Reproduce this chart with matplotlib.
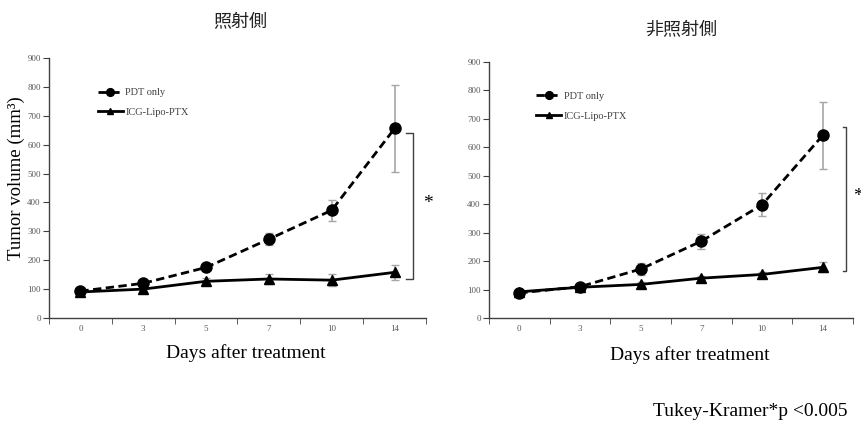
import matplotlib.pyplot as plt

days = ["0", "3", "5", "7", "10", "14"]

# 照射側 (irradiated side)
pdt_irr = [93, 120, 175, 273, 373, 656]
pdt_irr_err = [6, 8, 10, 20, 37, 150]
icg_irr = [90, 100, 127, 135, 131, 158]
icg_irr_err = [5, 6, 10, 18, 20, 25]

# 非照射側 (non-irradiated side)
pdt_non = [88, 110, 172, 270, 398, 642]
pdt_non_err = [6, 8, 22, 27, 40, 118]
icg_non = [92, 108, 118, 140, 153, 178]
icg_non_err = [5, 6, 8, 8, 10, 18]

titles = ["照射側", "非照射側"]
series_names = ["PDT only", "ICG-Lipo-PTX"]
sig_range = [(640, 135), (671, 165)]

serif = ["Liberation Serif", "DejaVu Serif"]
cjk = ["Noto Sans CJK JP", "DejaVu Sans"]

fig = plt.figure(figsize=(8.62, 4.21), dpi=100)
ax1 = fig.add_axes([0.0568, 0.2447, 0.4374, 0.6175])
ax2 = fig.add_axes([0.5673, 0.2447, 0.4223, 0.6080])

panels = [
    (ax1, pdt_irr, pdt_irr_err, icg_irr, icg_irr_err),
    (ax2, pdt_non, pdt_non_err, icg_non, icg_non_err),
]

x = list(range(len(days)))
err_color = "#a6a6a6"
xlabel_pos = [(0.523, -0.10), (0.552, -0.11)]

for i, (ax, pdt, pdt_err, icg, icg_err) in enumerate(panels):
    ax.errorbar(x, pdt, yerr=pdt_err, fmt="none", ecolor=err_color,
                elinewidth=1.2, capsize=3, zorder=1)
    ax.errorbar(x, icg, yerr=icg_err, fmt="none", ecolor=err_color,
                elinewidth=1.2, capsize=3, zorder=1)
    ax.plot(x, pdt, color="black", linestyle=(0, (3, 1.6)), linewidth=2,
            marker="o", markersize=8, label=series_names[0], zorder=3)
    ax.plot(x, icg, color="black", linestyle="-", linewidth=2,
            marker="^", markersize=7, label=series_names[1], zorder=3)

    ax.set_xlim(-0.5, len(days) - 0.5)
    ax.set_ylim(0, 900)
    ax.set_yticks(range(0, 901, 100))
    ax.set_xticks(x)
    ax.set_xticklabels(days)
    ax.set_xticks([k - 0.5 for k in range(len(days) + 1)], minor=True)
    ax.tick_params(axis="x", which="major", length=0, pad=5,
                   labelsize=6.5, labelcolor="#595959")
    ax.tick_params(axis="x", which="minor", length=4, direction="out",
                   color="#404040")
    ax.tick_params(axis="y", length=4, direction="out", color="#404040",
                   labelsize=6.5, labelcolor="#595959", pad=2)
    for lab in ax.get_xticklabels() + ax.get_yticklabels():
        lab.set_family(serif)

    for side in ["top", "right"]:
        ax.spines[side].set_visible(False)
    for side in ["left", "bottom"]:
        ax.spines[side].set_color("#404040")
        ax.spines[side].set_linewidth(1)

    ax.set_xlabel("Days after treatment", fontsize=14, family=serif)
    ax.xaxis.set_label_coords(*xlabel_pos[i])

    leg = ax.legend(loc="upper left", bbox_to_anchor=(0.115, 0.905),
                    frameon=False, handlelength=2.4, handletextpad=0.25,
                    labelspacing=1.0, borderpad=0, markerscale=0.7,
                    prop={"family": serif, "size": 7.5})
    for t in leg.get_texts():
        t.set_color("#404040")

fig.text(16 / 862, 1 - 178 / 421, "Tumor volume (mm³)", fontsize=13.5,
         family=serif, rotation=90, ha="center", va="center")

# significance brackets
bracket_x = [(5.175, 5.29), (5.34, 5.39)]
star_x = [5.53, 5.58]
for ax, (top, bot), (bx0, bx1), sx in zip([ax1, ax2], sig_range, bracket_x, star_x):
    ax.plot([bx0, bx1, bx1, bx0], [top, top, bot, bot], color="#404040",
            linewidth=1, clip_on=False)
    ax.text(sx, (top + bot) / 2 + 10, "*", fontsize=14, family=serif,
            ha="center", va="center", clip_on=False)

fig.text(240 / 862, 1 - 22 / 421, titles[0], fontsize=13, family=cjk,
         ha="center", va="center", color="#222222")
fig.text(681 / 862, 1 - 30 / 421, titles[1], fontsize=13, family=cjk,
         ha="center", va="center", color="#222222")

fig.text(848 / 862, 1 - 411 / 421, "Tukey-Kramer*p <0.005", fontsize=14,
         family=serif, ha="right", va="center")

fig.savefig("out.png", dpi=100)
